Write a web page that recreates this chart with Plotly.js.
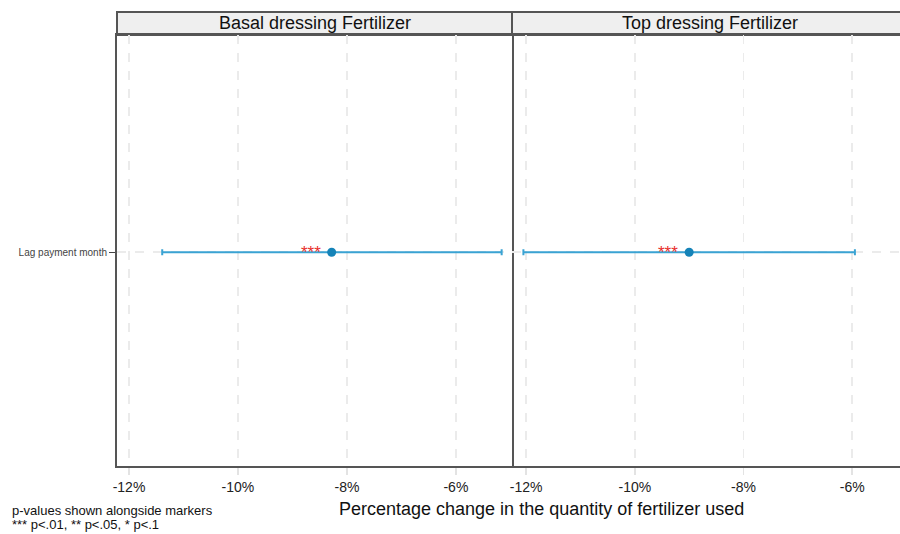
<!DOCTYPE html>
<html>
<head>
<meta charset="utf-8">
<script src="https://cdn.plot.ly/plotly-3.0.1.min.js"></script>
<style>html,body{margin:0;padding:0;background:#fff;}#chart{width:900px;height:534px;}</style>
</head>
<body>
<div id="chart"></div>
<script>
// Coefficient estimates (percentage change) with confidence bounds
const panels = ["Basal dressing Fertilizer", "Top dressing Fertilizer"];
const term = ["Lag payment month"];
const estimate = [-8.28, -9.00];
const ciLow = [-11.39, -12.05];
const ciHigh = [-5.16, -5.95];
const stars = ["***", "***"];
const tickVals = [-12, -10, -8, -6];
const tickText = ["-12%", "-10%", "-8%", "-6%"];
const notes = ["p-values shown alongside markers", "*** p<.01, ** p<.05, * p<.1"];

const lineColor = "#3aa3d3";
const dotColor = "#1583b8";
const frameColor = "#555555";
const font = "Liberation Sans, Arial, sans-serif";

const traces = panels.map((p, i) => ({
  type: "scatter",
  mode: "markers",
  x: [estimate[i]],
  y: term,
  xaxis: i === 0 ? "x" : "x2",
  yaxis: i === 0 ? "y" : "y2",
  marker: {color: dotColor, size: 9},
  error_x: {
    type: "data", symmetric: false,
    array: [ciHigh[i] - estimate[i]],
    arrayminus: [estimate[i] - ciLow[i]],
    color: lineColor, thickness: 2, width: 3
  },
  showlegend: false,
  hoverinfo: "skip"
}));

const split = 395 / 783;

const xCommon = {
  tickvals: tickVals, ticktext: tickText,
  showgrid: true, gridcolor: "#ebebeb", gridwidth: 1.5, griddash: "dash",
  zeroline: false,
  showline: true, linecolor: frameColor, linewidth: 2, mirror: true,
  ticks: "outside", ticklen: 7, tickcolor: "#e3e3e3", tickwidth: 1.5,
  tickfont: {family: font, size: 14, color: "#222"}
};
const yCommon = {
  type: "category", range: [-0.992, 1.008],
  showgrid: true, gridcolor: "#ebebeb", gridwidth: 1.5, griddash: "dash",
  zeroline: false,
  linecolor: frameColor, linewidth: 2
};

const annotations = [];
const shapes = [];
const stripTop = 1 + 23 / 431;
[[0, split], [split, 1]].forEach((d, i) => {
  const right = i === 1 ? 1.01 : d[1];
  shapes.push({
    type: "rect", xref: "paper", yref: "paper",
    x0: d[0], x1: i === 1 ? 1.02 : d[1], y0: 1, y1: stripTop,
    fillcolor: "#efefef", line: {color: frameColor, width: 2}, layer: "below"
  });
  annotations.push({
    xref: "paper", yref: "paper", x: (d[0] + right) / 2, y: (1 + stripTop) / 2,
    text: panels[i], showarrow: false, xanchor: "center", yanchor: "middle",
    font: {family: font, size: 18, color: "#111"}
  });
  annotations.push({
    xref: i === 0 ? "x" : "x2", yref: i === 0 ? "y" : "y2",
    x: estimate[i], y: term[0], text: stars[i], showarrow: false,
    xanchor: "right", xshift: -9, yshift: 0,
    font: {family: font, size: 17, color: "#e8302e"}
  });
});

annotations.push({
  xref: "paper", yref: "paper", x: 0.542, y: 0, yshift: -43,
  xanchor: "center", yanchor: "middle",
  text: "Percentage change in the quantity of fertilizer used",
  showarrow: false, font: {family: font, size: 18, color: "#111"}
});
notes.forEach((t, k) => {
  annotations.push({
    xref: "paper", yref: "paper", x: -117 / 783, xshift: 10, y: 0, yshift: -44 - 14 * k,
    xanchor: "left", yanchor: "middle", align: "left",
    text: t, showarrow: false, font: {family: font, size: 13, color: "#111"}
  });
});

const layout = {
  width: 900, height: 534,
  margin: {l: 117, r: 0, t: 35, b: 68},
  paper_bgcolor: "#fff", plot_bgcolor: "#fff",
  xaxis: Object.assign({}, xCommon, {domain: [0, split], range: [-12.22, -4.97], anchor: "y"}),
  xaxis2: Object.assign({}, xCommon, {domain: [split, 1], range: [-12.26, -5.12], anchor: "y2"}),
  yaxis: Object.assign({}, yCommon, {
    anchor: "x", showline: true, mirror: true,
    ticks: "outside", ticklen: 6, tickcolor: "#444",
    tickfont: {family: font, size: 10, color: "#444"}
  }),
  yaxis2: Object.assign({}, yCommon, {anchor: "x2", showline: false, showticklabels: false, ticks: ""}),
  shapes: shapes,
  annotations: annotations
};

Plotly.newPlot("chart", traces, layout, {displayModeBar: false, staticPlot: true});
</script>
</body>
</html>
